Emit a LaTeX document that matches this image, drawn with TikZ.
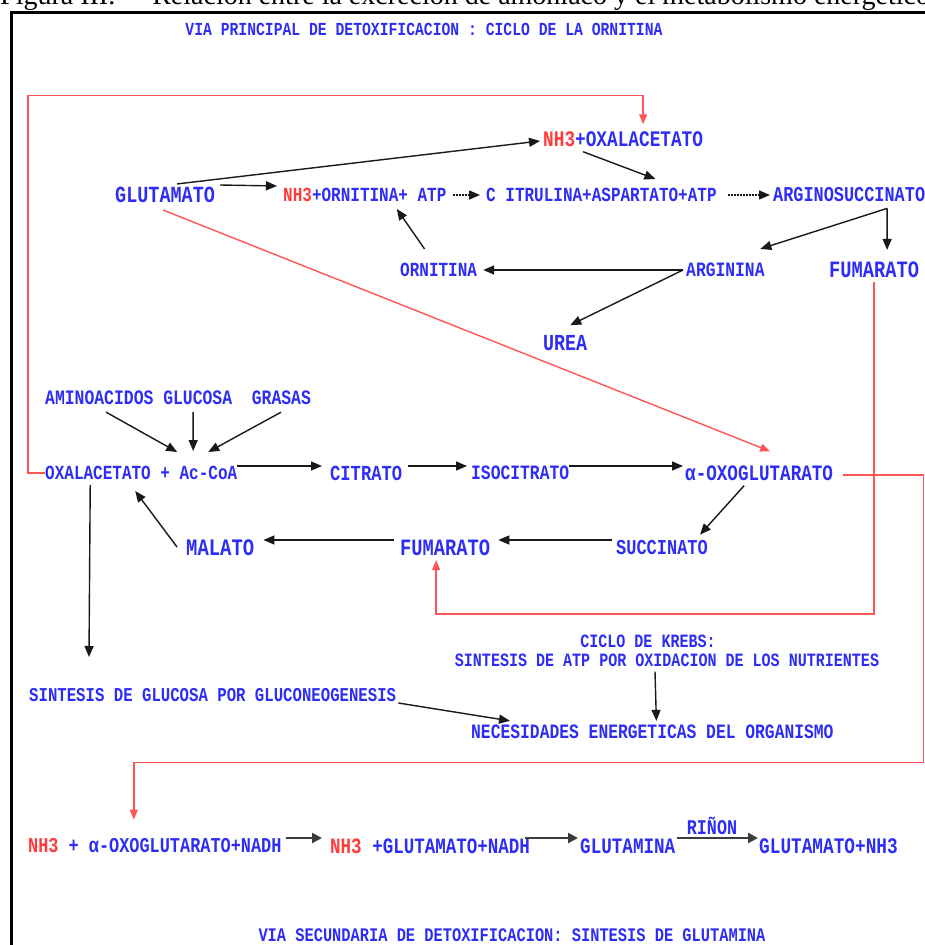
\documentclass[tikz,border=0pt]{standalone}
\usepackage{fontspec}
\usetikzlibrary{arrows.meta,calc}
\setmainfont{Liberation Serif}
\newfontfamily\diagfont{Liberation Mono}[FakeStretch=0.8]
\definecolor{txtblue}{RGB}{45,45,245}
\definecolor{nhred}{RGB}{255,60,60}
\definecolor{linered}{RGB}{255,85,85}
\definecolor{arrblack}{RGB}{25,25,25}
\newcommand{\nhr}{\textcolor{nhred}{NH3}}

\begin{document}
\begin{tikzpicture}[x=1pt,y=-1pt,
    lbl/.style={anchor=west,inner sep=0pt,text=txtblue,font=\diagfont\bfseries\fontsize{#1}{#1}\selectfont},
    lbl/.default=20,
    ttl/.style={inner sep=0pt,text=txtblue,font=\diagfont\bfseries\fontsize{#1}{#1}\selectfont},
    arr/.style={draw=arrblack,line width=1.4pt,-{Triangle[length=11pt,width=9pt]}},
    dasharr/.style={arr,dash pattern=on 2pt off 1pt},
    redarr/.style={draw=linered,line width=1.4pt,-{Triangle[length=10pt,width=8pt]}},
    fatarr/.style={draw=arrblack!85,line width=2.4pt,-{Triangle[length=10pt,width=10pt]}}]
    \useasboundingbox[fill=white] (0,0) rectangle (925,945);

    \node[anchor=base west,inner sep=0pt,font=\fontsize{28}{28}\selectfont] (caption) at (0,4)
        {Figura III.\hspace{37pt}Relación entre la excreción de amoníaco y el metabolismo energético};
    \draw[line width=3pt] (11.5,960) |- (940,12.5);

    % ciclo de la ornitina
    \node[ttl=18.4] (ttlmain) at (424,29) {VIA PRINCIPAL DE DETOXIFICACION : CICLO DE LA ORNITINA};
    \node[lbl=22.2] (nhoxa) at (543,139) {\nhr+OXALACETATO};
    \node[lbl=23.1] (glut) at (115,195) {GLUTAMATO};
    \node[lbl] (nhorn) at (283,195) {\nhr+ORNITINA+ ATP};
    \node[lbl] (citr) at (486,195) {C ITRULINA+ASPARTATO+ATP};
    \node[lbl=21.1] (argsuc) at (773,195) {ARGINOSUCCINATO};
    \node[lbl] (orn) at (400,270) {ORNITINA};
    \node[lbl=20.4] (argn) at (686,270) {ARGININA};
    \node[lbl=23.4] (fumtop) at (829,270) {FUMARATO};
    \node[lbl=22.9] (urea) at (543,343) {UREA};

    \draw[arr] ($(glut.north)+(12,-3)$) -- ($(nhoxa.west)+(-3,2)$);
    \draw[arr] ($(glut.east)+(5,-10)$) -- ($(nhorn.west)+(-6,-9)$);
    \draw[dasharr] ($(nhorn.east)+(6,0)$) -- ($(citr.west)+(-6,0)$);
    \draw[arr] ($(nhoxa.south)+(-40,5)$) -- ($(citr.north)+(54,-9)$);
    \draw[dasharr] ($(citr.east)+(11,0)$) -- ($(argsuc.west)+(-3,0)$);
    \draw[arr] ($(argsuc.south)+(38,6)$) -- ($(argn.north)+(35,-14)$);
    \draw[arr] ($(argsuc.south)+(38,6)$) -- ($(fumtop.north)+(13,-12)$);
    \draw[arr] ($(argn.west)+(-3,0)$) -- ($(orn.east)+(6,0)$);
    \draw[arr] ($(argn.west)+(-3,0)$) -- ($(urea.north)+(5,-10)$);
    \draw[arr] ($(orn.north)+(-14,-14)$) -- ($(nhorn.south)+(32,7)$);

    % ciclo de krebs
    \node[lbl=20.5] (srcs) at (45,398) {AMINOACIDOS GLUCOSA\ \ GRASAS};
    \node[lbl] (oxac) at (45,473) {OXALACETATO + Ac-CoA};
    \node[lbl=21.4] (citrato) at (330,473) {CITRATO};
    \node[lbl=20.4] (isoc) at (471,473) {ISOCITRATO};
    \node[lbl=22] (aoxo) at (685,473) {α-OXOGLUTARATO};
    \node[lbl=21.2] (succ) at (616,548) {SUCCINATO};
    \node[lbl=23.4] (fum) at (400,548) {FUMARATO};
    \node[lbl=23.6] (mal) at (186,548) {MALATO};
    \node[ttl=18.8] (krebsa) at (648,641) {CICLO DE KREBS:};
    \node[ttl=18.8] (krebsb) at (667,660) {SINTESIS DE ATP POR OXIDACION DE LOS NUTRIENTES};
    \node[lbl=19.6] (gluco) at (29,695) {SINTESIS DE GLUCOSA POR GLUCONEOGENESIS};
    \node[lbl=20.4] (necs) at (471,732) {NECESIDADES ENERGETICAS DEL ORGANISMO};
    \coordinate (gnbtip) at (89,657);

    \draw[arr] ($(srcs.south)+(-72,7)$) -- ($(oxac.north)+(36,-14)$);
    \draw[arr] ($(srcs.south)+(15,7)$) -- ($(oxac.north)+(52,-15)$);
    \draw[arr] ($(srcs.south)+(103,7)$) -- ($(oxac.north)+(67,-14)$);
    \draw[arr] ($(oxac.east)+(0,-7)$) -- ($(citrato.west)+(-8,-7)$);
    \draw[arr] ($(citrato.east)+(6,-7)$) -- ($(isoc.west)+(-4,-7)$);
    \draw[arr] ($(isoc.east)+(0,-7)$) -- ($(aoxo.west)+(-2,-7)$);
    \draw[arr] ($(aoxo.south)+(-15,5)$) -- ($(succ.north)+(38,-6)$);
    \draw[arr] ($(succ.west)+(-4,-8)$) -- ($(fum.east)+(8,-8)$);
    \draw[arr] ($(fum.west)+(-6,-8)$) -- ($(mal.east)+(9,-8)$);
    \draw[arr] ($(mal.west)+(-9,-1)$) -- ($(oxac.south)+(-6,11)$);
    \draw[arr] ($(oxac.south)+(-51,5)$) -- (gnbtip);
    \draw[arr] ($(krebsb.south)+(-12,5)$) -- ($(necs.north)+(4,-4)$);
    \draw[arr] ($(gluco.east)+(2,8)$) -- ($(necs.north west)+(39,-4)$);

    % via secundaria
    \node[lbl=21.1] (nhalpha) at (28,846) {\nhr\ + α-OXOGLUTARATO+NADH};
    \node[lbl=21.9] (nhglu) at (330,846) {\nhr\ +GLUTAMATO+NADH};
    \node[lbl=22] (glutm) at (580,846) {GLUTAMINA};
    \node[lbl=22.2] (glutnh) at (759,846) {GLUTAMATO+NH3};
    \node[ttl=20.9] (rinon) at (712,826) {RIÑON};
    \node[ttl=19.2] (ttlsec) at (512,935) {VIA SECUNDARIA DE DETOXIFICACION: SINTESIS DE GLUTAMINA};

    \draw[fatarr] ($(nhalpha.east)+(4,-8)$) -- ($(nhglu.west)+(-8,-8)$);
    \draw[fatarr] ($(nhglu.east)+(-5,-8)$) -- ($(glutm.west)+(-2,-8)$);
    \draw[fatarr] ($(glutm.east)+(2,-8)$) -- ($(glutnh.west)+(-1,-8)$);

    % lineas rojas
    \draw[redarr] (oxac.west) -- ++(-17,0) |- ($(nhoxa.north)+(20,-36)$) -- ($(nhoxa.north)+(20,-7)$);
    \draw[redarr] ($(glut.south)+(-2,7)$) -- ($(aoxo.north)+(11,-14)$);
    \draw[redarr] ($(fumtop.south)+(0,4)$) |- ($(fum.south)+(-9,58)$) -- ($(fum.south)+(-9,4)$);
    \draw[redarr] ($(aoxo.east)+(10,2)$) -- ++(80,0) |- ($(nhalpha.north)+(-21,-76)$) -- ($(nhalpha.north)+(-21,-19)$);
\end{tikzpicture}
\end{document}
